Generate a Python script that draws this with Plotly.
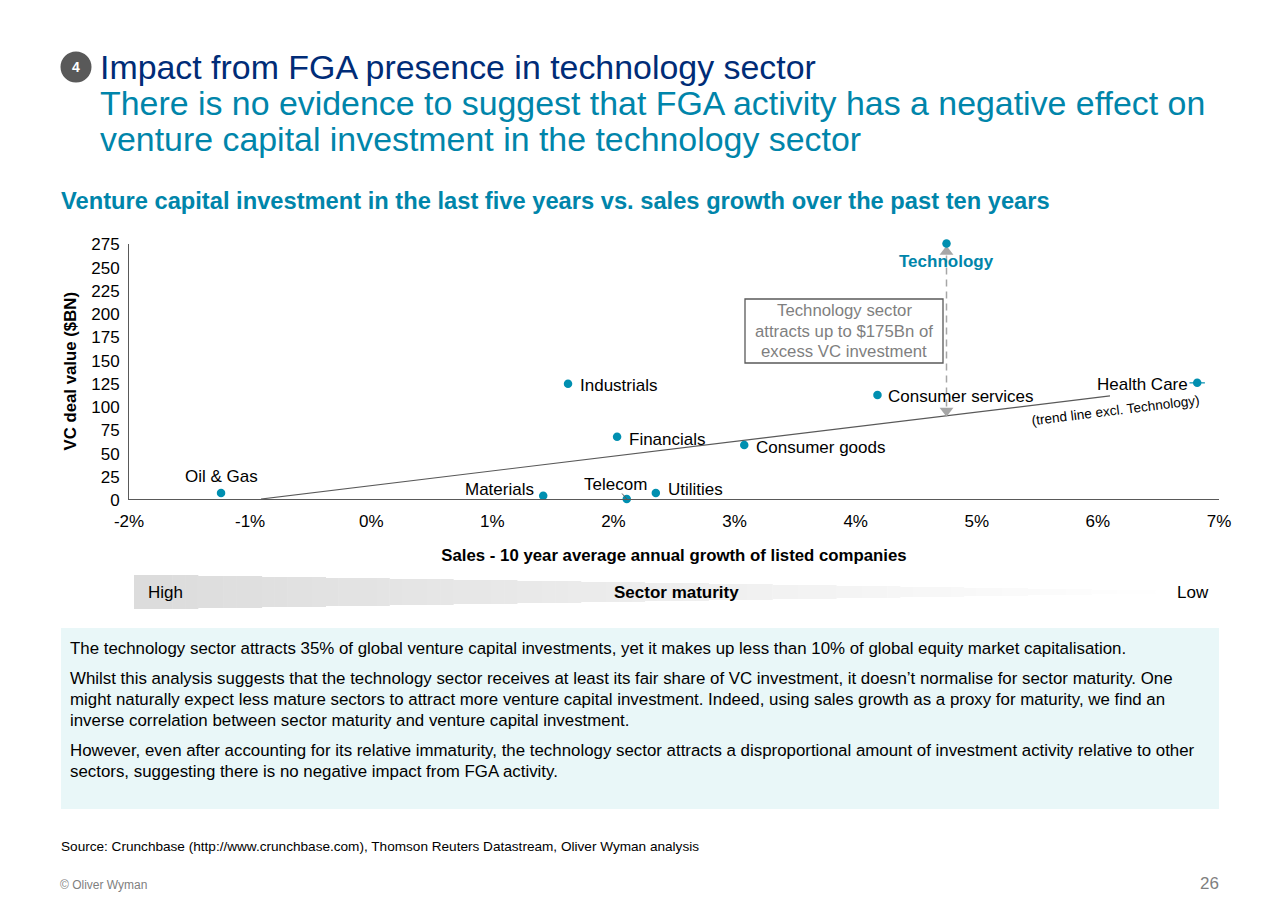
import plotly.graph_objects as go

# Data
sectors = ['Oil & Gas', 'Materials', 'Telecom', 'Utilities', 'Industrials', 'Financials',
           'Consumer goods', 'Consumer services', 'Health Care', 'Technology']
sales_growth = [-1.24, 1.42, 2.11, 2.35, 1.625, 2.03, 3.08, 4.18, 6.82, 4.75]
vc_value = [6.5, 3.5, 0, 6.5, 124, 67, 58, 112, 125, 275]

trend_x = [-0.91, 6.1]
trend_y = [0, 111]

gap_x = [4.75, 4.75]
gap_y = [262, 95]
gap_head_up = [266]
gap_head_down = [95]

x_ticks = [-2, -1, 0, 1, 2, 3, 4, 5, 6, 7]
x_labels = ['-2%', '-1%', '0%', '1%', '2%', '3%', '4%', '5%', '6%', '7%']
y_ticks = [0, 25, 50, 75, 100, 125, 150, 175, 200, 225, 250, 275]

FONT = 'Liberation Sans'
NAVY = '#002c77'
TEAL = '#0085aa'
DOT = '#008fb0'
GREY = '#595959'
W, H = 1280, 915


def px(x):
    return x / W


def py(y):
    return 1 - y / H


def text(x, y, s, size=17, color='#000000', anchor='left', bold=False, angle=0):
    if bold:
        s = f'<b>{s}</b>'
    return dict(xref='paper', yref='paper', x=px(x), y=py(y), text=s, showarrow=False,
                xanchor=anchor, yanchor='middle', align=anchor, textangle=angle,
                borderpad=0, borderwidth=0,
                font=dict(family=FONT, size=size, color=color))


fig = go.Figure()

# trend line and the gap arrow sit under the dots
fig.add_trace(go.Scatter(x=trend_x, y=trend_y, mode='lines', cliponaxis=False,
                         line=dict(color=GREY, width=1.2)))
fig.add_trace(go.Scatter(x=gap_x, y=gap_y, mode='lines', cliponaxis=False,
                         line=dict(color='#a6a6a6', width=1.5, dash='7px,5px')))
fig.add_trace(go.Scatter(x=gap_x[:1], y=gap_head_up, mode='markers', cliponaxis=False,
                         marker=dict(symbol='triangle-up', size=12, color='#a6a6a6')))
fig.add_trace(go.Scatter(x=gap_x[:1], y=gap_head_down, mode='markers', cliponaxis=False,
                         marker=dict(symbol='triangle-down', size=12, color='#a6a6a6')))
fig.add_trace(go.Scatter(x=sales_growth, y=vc_value, mode='markers', cliponaxis=False,
                         marker=dict(size=8.5, color=DOT)))
# the Health Care dot has a small flat tick through it
fig.add_trace(go.Scatter(x=sales_growth[8:9], y=vc_value[8:9], mode='markers', cliponaxis=False,
                         marker=dict(symbol='line-ew', size=11, line=dict(color=DOT, width=1.2))))

# label placement per sector: anchor, x shift, y shift
label_place = {
    'Oil & Gas': ('center', 0, 16),
    'Materials': ('right', -9, 6),
    'Telecom': ('right', 20, 15),
    'Utilities': ('left', 12, 3),
    'Industrials': ('left', 12, -2),
    'Financials': ('left', 12, -3),
    'Consumer goods': ('left', 12, -2),
    'Consumer services': ('left', 11, -2),
    'Health Care': ('right', -9, -2),
}
annotations = []
for name, gx, gy in zip(sectors, sales_growth, vc_value):
    if name == 'Technology':
        continue
    anchor, dx, dy = label_place[name]
    annotations.append(dict(x=gx, y=gy, xref='x', yref='y', text=name, showarrow=False,
                            xanchor=anchor, yanchor='middle', xshift=dx, yshift=dy,
                            borderpad=0, borderwidth=0,
                            font=dict(family=FONT, size=17, color='#000000')))
annotations.append(dict(x=4.75, y=275, xref='x', yref='y', text='<b>Technology</b>', showarrow=False,
                        xanchor='center', yanchor='middle', yshift=-18,
                        font=dict(family=FONT, size=17, color=TEAL)))
# Telecom leader
annotations.append(dict(x=sales_growth[2], y=vc_value[2], xref='x', yref='y', text='', showarrow=True,
                        arrowhead=0, arrowwidth=1, arrowcolor=GREY, ax=-6, ay=-7))

body_lines = [
    (648, 'The technology sector attracts 35% of global venture capital investments, yet it makes up less than '
          '10% of global equity market capitalisation.'),
    (678, 'Whilst this analysis suggests that the technology sector receives at least its fair share of VC '
          'investment, it doesn’t normalise for sector maturity. One'),
    (699, 'might naturally expect less mature sectors to attract more venture capital investment. Indeed, using '
          'sales growth as a proxy for maturity, we find an'),
    (720, 'inverse correlation between sector maturity and venture capital investment.'),
    (750, 'However, even after accounting for its relative immaturity, the technology sector attracts a '
          'disproportional amount of investment activity relative to other'),
    (771, 'sectors, suggesting there is no negative impact from FGA activity.'),
]
callout_lines = [
    (310.5, 'Technology sector'),
    (331, 'attracts up to $175Bn of'),
    (351, 'excess VC investment'),
]

annotations += [
    text(100, 67, 'Impact from FGA presence in technology sector', size=33.9, color=NAVY),
    text(100, 103, 'There is no evidence to suggest that FGA activity has a negative effect on', size=33.9, color=TEAL),
    text(100, 139, 'venture capital investment in the technology sector', size=33.9, color=TEAL),
    text(76, 67, '4', size=14, color='#ffffff', anchor='center', bold=True),
    text(61, 201, 'Venture capital investment in the last five years vs. sales growth over the past ten years',
         size=23.7, color=TEAL, bold=True),
    text(1115, 410, '(trend line excl. Technology)', size=13.6, anchor='center', angle=-7),
    text(148, 592, 'High'),
    text(676, 592, 'Sector maturity', anchor='center', bold=True),
    text(1209, 592, 'Low', anchor='right'),
    text(61, 846, 'Source: Crunchbase (http://www.crunchbase.com), Thomson Reuters Datastream, Oliver Wyman analysis',
         size=13.6),
    text(60, 885, '© Oliver Wyman', size=12, color='#7f7f7f'),
    text(1219, 883, '26', size=17, color='#7f7f7f', anchor='right'),
]
annotations += [text(70, y, line, size=16.88) for y, line in body_lines]
annotations += [text(844, y, line, size=16.75, color='#7f7f7f', anchor='center') for y, line in callout_lines]

# tapered grey wedge: height drops in blocks, shade fades in finer steps
shapes = []
steps = 85
x0, x1 = 134, 1219
for i in range(steps):
    f = i / steps
    shade = int(min(255, 220 + (255 - 220) * f / 0.93))
    half = 17 * (1 - (i // 5) / 17)
    left = x0 + (x1 - x0) * f
    right = x0 + (x1 - x0) * (i + 1) / steps
    shapes.append(dict(type='rect', xref='paper', yref='paper', layer='below', line_width=0,
                       x0=px(left), x1=px(right + 0.5), y0=py(592 + half), y1=py(592 - half),
                       fillcolor=f'rgb({shade},{shade},{shade})'))

shapes += [
    dict(type='rect', xref='paper', yref='paper', layer='below', line_width=0, fillcolor='#e9f7f8',
         x0=px(61), x1=px(1219), y0=py(809), y1=py(628)),
    dict(type='circle', xref='paper', yref='paper', line_width=0, fillcolor=GREY,
         x0=px(60.5), x1=px(91.5), y0=py(82.5), y1=py(51.5)),
    dict(type='rect', xref='paper', yref='paper', fillcolor='#ffffff', line=dict(color=GREY, width=1.3),
         x0=px(745), x1=px(943), y0=py(363), y1=py(299)),
]

fig.update_layout(
    width=W, height=H, showlegend=False, plot_bgcolor='#ffffff', paper_bgcolor='#ffffff',
    margin=dict(l=0, r=0, t=0, b=0, pad=0, autoexpand=False),
    font=dict(family=FONT, size=17, color='#000000'),
    annotations=annotations, shapes=shapes,
)
fig.update_xaxes(domain=[px(129), px(1219)], range=[-2, 7], tickvals=x_ticks, ticktext=x_labels,
                 showgrid=False, zeroline=False, showline=True, linecolor=GREY, linewidth=1,
                 ticks='outside', ticklen=7, tickcolor='rgba(0,0,0,0)', tickfont=dict(size=17),
                 title=dict(text='<b>Sales - 10 year average annual growth of listed companies</b>',
                            font=dict(size=16.8), standoff=18))
fig.update_yaxes(domain=[py(499), py(243.5)], range=[0, 275], tickvals=y_ticks,
                 showgrid=False, zeroline=False, showline=True, linecolor=GREY, linewidth=1,
                 ticks='outside', ticklen=5, tickcolor='rgba(0,0,0,0)', tickfont=dict(size=17),
                 ticklabelshift=1,
                 title=dict(text='<b>VC deal value ($BN)</b>', font=dict(size=16.8), standoff=10))

fig.write_html("out.html", config=dict(displayModeBar=False),
               post_script="document.body.style.margin='0';")
